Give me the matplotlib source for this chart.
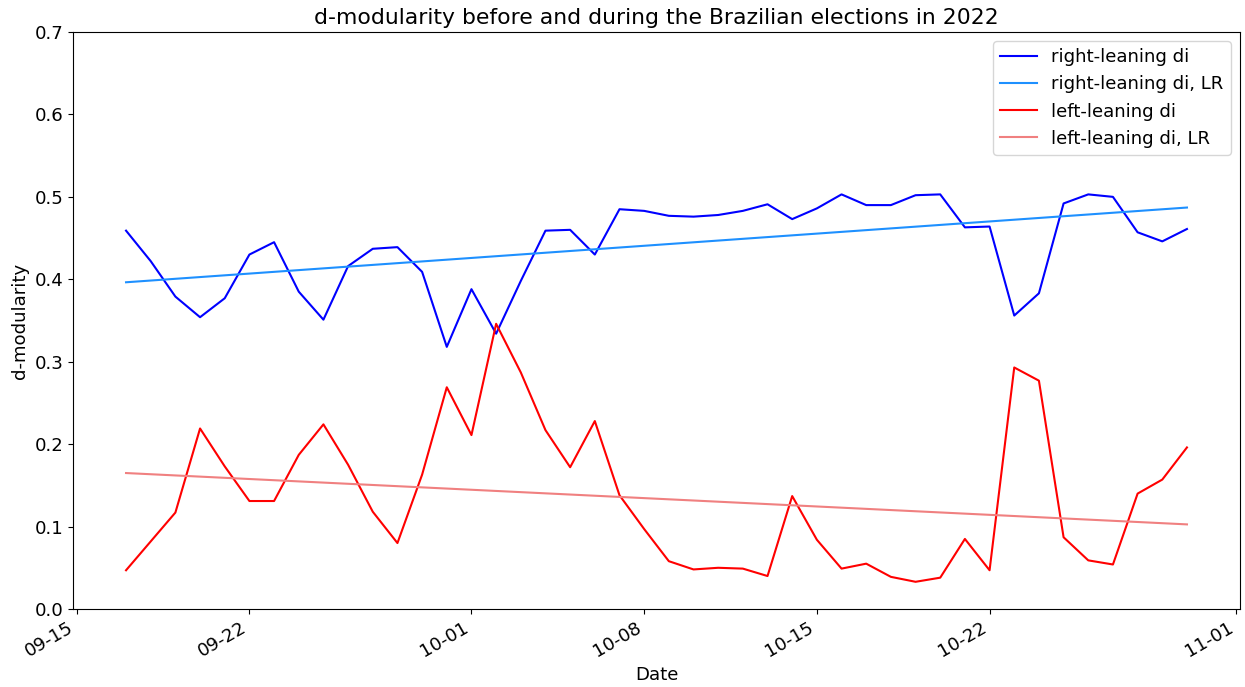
import numpy as np
import pandas as pd
import matplotlib
matplotlib.use('Agg')
import matplotlib.pyplot as plt
import matplotlib.dates as mdates

dates = pd.date_range('2022-09-17', '2022-10-30', freq='D')

right_di = [0.459, 0.422, 0.379, 0.354, 0.377, 0.430, 0.445, 0.385, 0.351, 0.416,
            0.437, 0.439, 0.409, 0.318, 0.388, 0.334, 0.398, 0.459, 0.460, 0.430,
            0.485, 0.483, 0.477, 0.476, 0.478, 0.483, 0.491, 0.473, 0.486, 0.503,
            0.490, 0.490, 0.502, 0.503, 0.463, 0.464, 0.356, 0.383, 0.492, 0.503,
            0.500, 0.457, 0.446, 0.461]

left_di = [0.047, 0.082, 0.117, 0.219, 0.173, 0.131, 0.131, 0.187, 0.224, 0.175,
           0.118, 0.080, 0.163, 0.269, 0.211, 0.346, 0.287, 0.217, 0.172, 0.228,
           0.138, 0.097, 0.058, 0.048, 0.050, 0.049, 0.040, 0.137, 0.084, 0.049,
           0.055, 0.039, 0.033, 0.038, 0.085, 0.047, 0.293, 0.277, 0.087, 0.059,
           0.054, 0.140, 0.157, 0.196]

plt.rcParams['font.size'] = 13.1

# linear regression over the day index
t = np.arange(len(dates))
right_fit = np.polyval(np.polyfit(t, right_di, 1), t)
left_fit = np.polyval(np.polyfit(t, left_di, 1), t)

fig = plt.figure(figsize=(12.45, 6.87), dpi=100)
ax = fig.add_axes([73 / 1245, 78 / 687, 1167 / 1245, 577 / 687])

ax.plot(dates, right_di, color='blue', label='right-leaning di')
ax.plot(dates, right_fit, color='dodgerblue', label='right-leaning di, LR')
ax.plot(dates, left_di, color='red', label='left-leaning di')
ax.plot(dates, left_fit, color='lightcoral', label='left-leaning di, LR')

ax.set_ylim(0, 0.7)
ax.xaxis.set_major_formatter(mdates.DateFormatter('%m-%d'))
for lab in ax.get_xticklabels():
    lab.set_rotation(30)
    lab.set_ha('right')
ax.set_title('d-modularity before and during the Brazilian elections in 2022')
ax.set_xlabel('Date')
ax.set_ylabel('d-modularity')
ax.legend(loc='upper right')

fig.savefig('out.png', dpi=100)
